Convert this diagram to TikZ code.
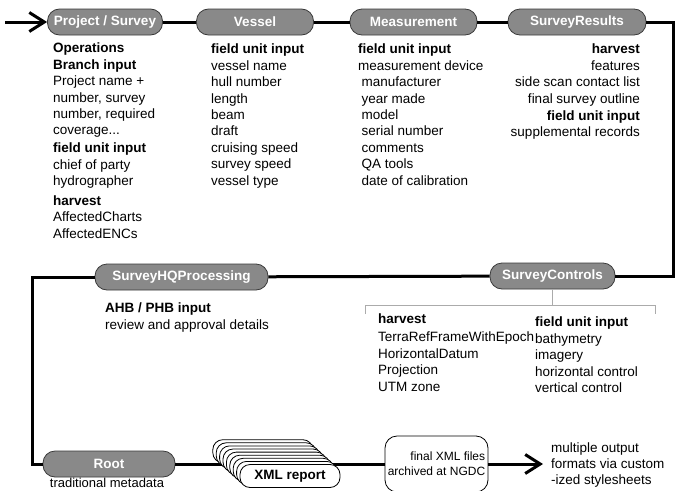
\documentclass[tikz,border=0pt]{standalone}
\usepackage{fontspec}
\setmainfont{Liberation Sans}
\usetikzlibrary{arrows.meta,positioning}
\definecolor{pillgray}{HTML}{898989}
\definecolor{pillrim}{HTML}{3A3A3A}
\definecolor{bracketgray}{HTML}{ABABAB}
\newcommand{\txtsize}{\fontsize{13.5}{16.4}\selectfont}

\begin{document}
\begin{tikzpicture}[x=1pt,y=-1pt,
    flow/.style={line width=3pt,black},
    barb/.style={-{Straight Barb[length=15pt,width=19pt]}},
    pill/.style={draw=pillrim,line width=0.8pt,fill=pillgray,rounded corners=12pt,
        minimum height=26pt,inner sep=0pt,text=white,font=\txtsize\bfseries},
    report/.style={draw,line width=0.8pt,fill=white,rounded corners=10pt,
        minimum width=100pt,minimum height=23pt,inner sep=0pt},
    col/.style={anchor=north west,align=left,inner sep=0pt,font=\txtsize},
    bracket/.style={draw=bracketgray,line width=0.9pt}]
\useasboundingbox (0,0) rectangle (677,490);
\clip (0,0) rectangle (677,490);

% stations
\node[pill,minimum width=115pt] (proj) at (105,22) {Project / Survey};
\node[pill,minimum width=117pt] (vessel) at (255,22) {Vessel};
\node[pill,minimum width=127pt] (meas) at (413.5,22) {Measurement};
\node[pill,minimum width=138pt] (results) at (577,22) {SurveyResults};
\node[pill,minimum width=125pt] (controls) at (552.5,276) {SurveyControls};
\node[pill,minimum width=173pt] (hq) at (181.5,277) {SurveyHQProcessing};
\node[pill,minimum width=132pt] (root) at (109,464) {Root};
\node[draw,line width=0.8pt,rounded corners=12pt,minimum width=103pt,minimum height=56pt,
    inner sep=0pt,align=right,font=\fontsize{12}{15}\selectfont] (archive) at (436.5,464)
    {final XML files\\archived at NGDC};

\coordinate (start) at (5,22);
\coordinate (ne) at (673,22);
\coordinate (se) at (673,276);
\coordinate (nw) at (32,277);
\coordinate (sw) at (32,464);
\coordinate (out) at (543,464);

% main flow
\draw[flow,barb] (start) -- (proj);
\draw[flow] (proj) -- (vessel) (vessel) -- (meas) (meas) -- (results);
\draw[flow] (results) -- (ne) -- (se) -- (controls);
\draw[flow] (controls) -- (hq);
\draw[flow] (hq) -- (nw) -- (sw) -- (root);
\draw[flow] (root) -- (archive);
\draw[flow,barb] (archive) -- (out);

% stacked reports
\foreach \k in {8,7,...,1}
    \node[report] at (290-3.4*\k,476-3.1*\k) {};
\node[report,font=\txtsize\bfseries] (xml) at (290,476) {XML report};

% texts under the stations
\node[col] (projtxt) at (53,43) {\textbf{Operations}\\\textbf{Branch input}\\Project name +\\number, survey\\number, required\\coverage...\\[1.5pt]\textbf{field unit input}\\chief of party\\hydrographer\\[3.5pt]\textbf{harvest}\\AffectedCharts\\AffectedENCs};
\node[col] (vesseltxt) at (211,44) {\textbf{field unit input}\\vessel name\\hull number\\length\\beam\\draft\\cruising speed\\survey speed\\vessel type};
\node[col] (meastxt) at (358,44) {\textbf{field unit input}\\measurement device\\\hspace*{3.5pt}manufacturer\\\hspace*{3.5pt}year made\\\hspace*{3.5pt}model\\\hspace*{3.5pt}serial number\\\hspace*{3.5pt}comments\\\hspace*{3.5pt}QA tools\\\hspace*{3.5pt}date of calibration};
\node[col,anchor=north east,align=right] (resultstxt) at (640,44) {\textbf{harvest}\\features\\side scan contact list\\final survey outline\\[1pt]\textbf{field unit input}\\supplemental records};
\node[col] (hqtxt) at (105,303) {\textbf{AHB / PHB input}\\review and approval details};

\draw[bracket] (controls.south) -- ++(0,16);
\draw[bracket] (365,314) -- (365,305) -- (655,305) -- (655,314);
\node[col] (harvesttxt) at (378,314) {\textbf{harvest}\\[1.5pt]TerraRefFrameWithEpoch\\HorizontalDatum\\Projection\\UTM zone};
\node[col] (fieldtxt) at (535,317) {\textbf{field unit input}\\bathymetry\\imagery\\horizontal control\\vertical control};

\node[anchor=base,inner sep=0pt,font=\fontsize{13}{15}\selectfont] (roottxt) at (107,487.5) {traditional metadata};
\node[col,font=\fontsize{13.5}{16}\selectfont] (formats) at (551,443) {multiple output\\formats via custom\\-ized stylesheets};
\end{tikzpicture}
\end{document}
